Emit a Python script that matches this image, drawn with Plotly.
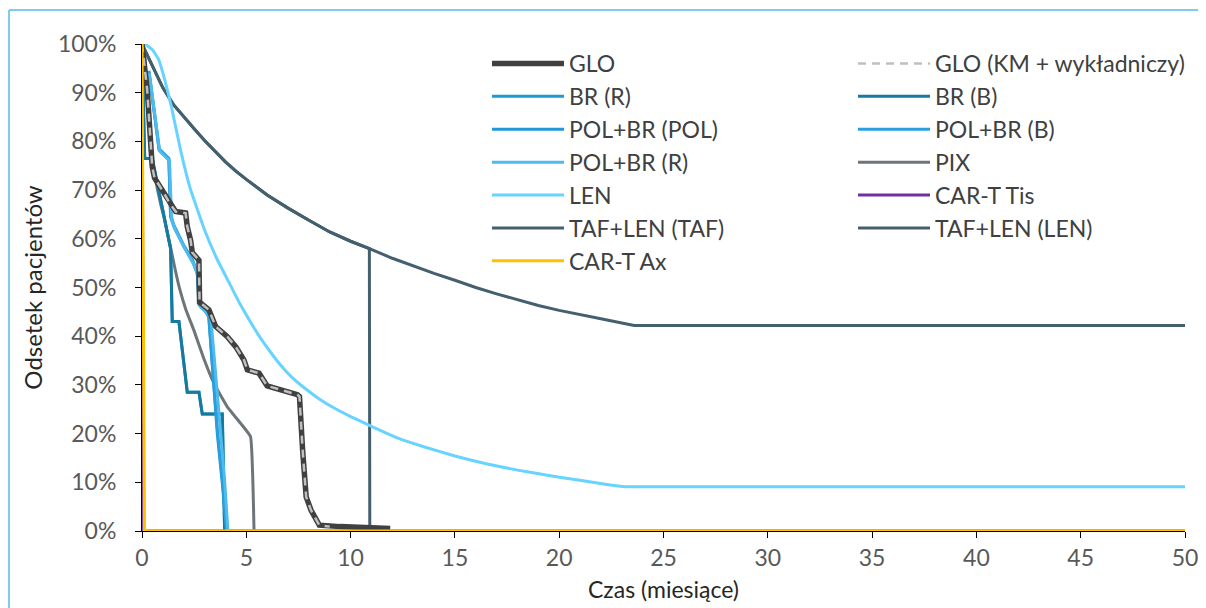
import plotly.graph_objects as go

# ---------------- data (months, % of patients) ----------------
glo_x = [0, 0.25, 0.49, 0.6, 0.97, 1.3, 1.61, 2.09, 2.17, 2.33, 2.41, 2.73, 2.76, 3.21, 3.53, 4.09, 4.5,
         4.89, 5.05, 5.61, 6.0, 7.45, 7.55, 7.7, 7.87, 8.1, 8.5, 9.5, 11.9]
glo_y = [100, 90.5, 74.8, 72.5, 70.0, 67.5, 65.6, 65.3, 62.5, 59.7, 57.2, 55.6, 47.0, 45.4, 42.0, 39.9, 37.8,
         35.1, 33.1, 32.4, 29.8, 28.0, 27.6, 16.6, 7.0, 4.3, 1.2, 0.9, 0.5]

glo_km_x = [0, 0.25, 0.49, 0.6, 0.97, 1.3, 1.61, 2.09, 2.17, 2.33, 2.41, 2.73, 2.76, 3.21, 3.53, 4.09, 4.5,
            4.89, 5.05, 5.61, 6.0, 7.45, 7.55, 7.7, 7.87, 8.1, 8.5, 9.0]
glo_km_y = [100, 90.5, 74.8, 72.5, 70.0, 67.5, 65.6, 65.3, 62.5, 59.7, 57.2, 55.6, 47.0, 45.4, 42.0, 39.9, 37.8,
            35.1, 33.1, 32.4, 29.8, 28.0, 27.6, 16.6, 7.0, 4.3, 1.2, 0.9]

br_x = [0, 0.13, 0.49, 1.37, 1.45, 1.77, 2.17, 2.73, 2.89, 3.85, 3.96]
br_r_y = [100, 76.5, 76.5, 58.0, 43.0, 43.0, 28.5, 28.5, 24.0, 24.0, 0]
br_b_y = [100, 76.5, 76.5, 58.0, 43.0, 43.0, 28.5, 28.5, 24.0, 24.0, 0]

pol_x = [0.33, 0.58, 0.82, 1.29, 1.37, 1.53, 2.01, 2.41, 2.65, 2.73, 3.05, 3.2, 3.37, 3.61, 3.85, 4.06]
pol_pol_y = [94.3, 85.8, 78.2, 76.2, 64.5, 62.5, 58.4, 55.6, 52.9, 46.5, 45.0, 44.0, 33.7, 20.0, 9.8, 0]
pol_b_y = [94.5, 86.0, 78.5, 76.5, 65.0, 62.8, 58.6, 55.8, 53.0, 47.0, 45.3, 44.3, 34.5, 21.0, 10.5, 0]
pol_r_x = [0.35, 0.6, 0.85, 1.32, 1.42, 1.58, 2.05, 2.45, 2.7, 2.8, 3.12, 3.3, 3.5, 3.72, 3.95, 4.12]
pol_r_y = [94.0, 85.5, 78.0, 76.0, 64.0, 62.0, 58.0, 55.0, 52.5, 46.0, 44.8, 43.8, 34.0, 21.5, 11.0, 0]

pix_x = [0, 0.1, 0.25, 0.41, 0.55, 0.7, 0.9, 1.05, 1.2, 1.37, 1.6, 1.8, 2.1, 2.49, 2.97, 3.45, 4.09,
         4.73, 5.2, 5.37]
pix_y = [100, 98.8, 89.0, 80.3, 75.0, 71.0, 67.0, 64.5, 61.5, 58.2, 53.5, 49.8, 45.5, 41.2, 35.3, 30.3,
         25.5, 22.1, 19.4, 0]

len_x = [0, 0.2, 0.5, 0.8, 1.1, 1.4, 1.85, 2.3, 3.0, 3.6, 4.2, 4.7, 5.2, 5.7, 6.2, 6.6, 7.2, 7.9, 8.5,
         9.1, 10.0, 10.7, 11.5, 12.3, 13.5, 15.0, 16.5, 18.0, 19.5, 21.0, 22.2, 23.2, 50]
len_y = [100, 99.8, 98.8, 96.8, 92.5, 87.3, 78.2, 70.5, 61.8, 55.8, 50.8, 46.6, 42.9, 39.5, 36.5, 34.3,
         31.5, 29.0, 27.1, 25.5, 23.5, 22.1, 20.5, 19.0, 17.3, 15.4, 13.8, 12.5, 11.4, 10.4, 9.6, 9.1, 9.1]

cart_tis_x = [0, 0.08, 50]
cart_tis_y = [100, 0, 0]

taf_len_x = [0, 0.5, 1, 1.5, 2, 2.5, 3, 3.5, 4, 4.5, 5, 6, 7, 8, 9, 10, 10.9, 12, 13, 14, 15, 16, 17,
             18, 19, 20, 21, 22, 23, 23.6, 50]
taf_len_y = [100, 95.5, 91.0, 87.6, 85.0, 82.6, 80.2, 78.0, 75.8, 73.9, 72.2, 69.0, 66.3, 63.8, 61.4,
             59.5, 58.0, 56.0, 54.4, 52.9, 51.5, 50.0, 48.7, 47.5, 46.3, 45.3, 44.5, 43.6, 42.7, 42.2, 42.2]

taf_taf_x = [0, 0.5, 1, 1.5, 2, 2.5, 3, 3.5, 4, 4.5, 5, 6, 7, 8, 9, 10, 10.9, 10.92]
taf_taf_y = [100, 95.5, 91.0, 87.6, 85.0, 82.6, 80.2, 78.0, 75.8, 73.9, 72.2, 69.0, 66.3, 63.8, 61.4,
             59.5, 58.0, 0]

cart_ax_x = [0, 0.12, 50]
cart_ax_y = [100, 0, 0]

x_ticks = [0, 5, 10, 15, 20, 25, 30, 35, 40, 45, 50]
y_ticks = [0, 10, 20, 30, 40, 50, 60, 70, 80, 90, 100]

FONT = "Lato"
fig = go.Figure()


def add(name, x, y, color, width, legend, dash=None, rank=0, smooth=False):
    line = dict(color=color, width=width, dash=dash)
    if smooth:
        line.update(shape="spline", smoothing=0.3)
    fig.add_trace(go.Scatter(
        x=x, y=y, mode="lines", name=name, line=line,
        legend=legend, legendrank=rank, cliponaxis=False,
        hoverinfo="skip"))


# drawing order (bottom -> top)
add("CAR-T Tis", cart_tis_x, cart_tis_y, "#7030a0", 3, "legend2", rank=5)
add("TAF+LEN (LEN)", taf_len_x, taf_len_y, "#44606e", 3, "legend2", rank=6)
add("TAF+LEN (TAF)", taf_taf_x, taf_taf_y, "#44606e", 3, "legend", rank=6)
add("LEN", len_x, len_y, "#66d4ff", 3, "legend", rank=5, smooth=True)
add("PIX", pix_x, pix_y, "#6e7579", 3, "legend2", rank=4, smooth=True)
add("BR (R)", br_x, br_r_y, "#1a9ad0", 3, "legend", rank=2)
add("BR (B)", br_x, br_b_y, "#17799e", 3, "legend2", rank=2)
add("POL+BR (POL)", pol_x, pol_pol_y, "#2398d6", 3, "legend", rank=3)
add("POL+BR (B)", pol_x, pol_b_y, "#2a9fdc", 3, "legend2", rank=3)
add("POL+BR (R)", pol_r_x, pol_r_y, "#4dbbed", 3, "legend", rank=4)
add("GLO", glo_x, glo_y, "#404040", 5.5, "legend", rank=1)
add("GLO (KM + wykładniczy)", glo_km_x, glo_km_y, "#c0c0c0", 2.5, "legend2", dash="8px,6px", rank=1)
add("CAR-T Ax", cart_ax_x, cart_ax_y, "#ffc000", 3, "legend", rank=7)

# the page puts the figure 8px in from the top-left corner
OFF = 8
W, H = 1206, 608
L, T = 142 - OFF, 44 - OFF
PR, PB = 1185 - OFF, 531 - OFF
R, B = W - PR, H - PB
pw, ph = PR - L, PB - T


def px2x(px):
    return (px - OFF - L) / pw


def py2y(py):
    return 1 - (py - OFF - T) / ph


leg_common = dict(font=dict(family=FONT, size=23, color="#404040"), bgcolor="rgba(0,0,0,0)",
                  yanchor="top", xanchor="left", itemwidth=72, traceorder="normal",
                  tracegroupgap=0)

fig.update_layout(
    width=W, height=H,
    margin=dict(l=L, r=R, t=T, b=B, autoexpand=False),
    paper_bgcolor="white", plot_bgcolor="white",
    font=dict(family=FONT, color="#595959"),
    showlegend=True,
    legend=dict(x=px2x(487), y=py2y(42), **leg_common),
    legend2=dict(x=px2x(853), y=py2y(42), **leg_common),
    xaxis=dict(range=[0, 50], tickvals=x_ticks, ticktext=[str(v) for v in x_ticks],
               showline=True, linecolor="#000000", linewidth=1, mirror=False,
               ticks="outside", ticklen=6, tickcolor="#000000", showgrid=False, zeroline=False,
               tickfont=dict(family=FONT, size=23, color="#595959"), ticklabelstandoff=0,
               title=dict(text="Czas (miesiące)", font=dict(family=FONT, size=23, color="#262626"),
                          standoff=12)),
    yaxis=dict(range=[0, 100], tickvals=y_ticks, ticktext=[f"{v}%" for v in y_ticks],
               showline=True, linecolor="#000000", linewidth=1,
               ticks="outside", ticklen=6, tickcolor="#000000", showgrid=False, zeroline=False,
               tickfont=dict(family=FONT, size=23, color="#595959"), ticklabelstandoff=14,
               title=dict(text="Odsetek pacjentów", font=dict(family=FONT, size=24, color="#262626"),
                          standoff=8)),
    shapes=[
        dict(type="line", xref="paper", yref="paper", x0=px2x(9), x1=px2x(1220), y0=py2y(10), y1=py2y(10),
             line=dict(color="#7fcdee", width=2)),
        dict(type="line", xref="paper", yref="paper", x0=px2x(9), x1=px2x(9), y0=py2y(10), y1=py2y(620),
             line=dict(color="#7fcdee", width=2)),
    ],
)

fig.write_html("out.html")
